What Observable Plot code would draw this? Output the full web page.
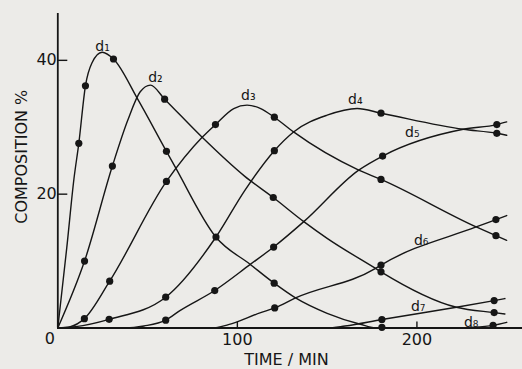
<!DOCTYPE html>
<html><head><meta charset="utf-8">
<script src="https://cdn.jsdelivr.net/npm/d3@7"></script>
<script src="https://cdn.jsdelivr.net/npm/@observablehq/plot@0.6"></script>
<style>html,body{margin:0;padding:0;background:#ecebe8;} svg{display:block;}</style>
</head><body><div id="chart"></div>
<script>
// Series names (products d1..d8)
const seriesNames = ["d₁","d₂","d₃","d₄","d₅","d₆","d₇","d₈"];

// Curves: [time (min), composition %]
const curveD1 = [[0,0],[5,12],[9,22.3],[11.7,27.6],[15.4,36.2],[19,39.6],[24.7,41.2],[31,40.2],[44.5,34.2],[60.5,26.4],[65.5,24.0],[88,13.6],[107.2,9.5],[120.5,6.7],[132.4,4.5],[150,2.2],[168,0.6],[178,0],[185,0]];
const curveD2 = [[0,0],[14.9,10.0],[30.4,24.2],[38.9,31.0],[45.9,35.3],[51.6,36.3],[59.5,34.2],[80.4,28.5],[104,22.7],[120,19.5],[137,15.9],[150,13.4],[177,8.9],[180,8.4],[222,3.1],[243,2.3],[249,2.1]];
const curveD3 = [[0,0],[7,0.2],[14.8,1.4],[28.9,7.0],[60.5,21.9],[80.4,28.5],[87.8,30.4],[98,32.8],[105.4,33.3],[113,32.8],[120.6,31.5],[131.3,29.3],[167.6,23.6],[180,22.2],[233,15.1],[244,13.8],[250,13.1]];
const curveD4 = [[0,0],[10,0.2],[28.6,1.3],[60.1,4.6],[88.1,13.6],[104,20.5],[120.6,26.5],[131.3,29.3],[150,31.8],[166.7,32.8],[180,32.1],[225.8,29.7],[244.5,29.1],[250,28.8]];
const curveD5 = [[0,0],[38,0],[48,0.3],[60.1,1.17],[68,2.6],[87.4,5.6],[107.2,9.5],[120.2,12.1],[137,15.9],[167.6,23.6],[180.9,25.7],[225.8,29.7],[244.5,30.4],[250,30.8]];
const curveD6 = [[0,0],[86,0],[95,0.5],[113,2.3],[120.8,3.0],[132.4,4.5],[177,8.9],[180,9.4],[233,15.1],[244,16.2],[250,16.8]];
const curveD7 = [[0,0],[150,0],[160,0.3],[180.5,1.27],[222,3.1],[243,4.1],[249,4.4]];
const curveD8 = [[0,0],[218,0],[230,0.1],[242.4,0.4],[250,0.85]];
const curves = [curveD1,curveD2,curveD3,curveD4,curveD5,curveD6,curveD7,curveD8];

// Measured points (filled dots)
const pointsD1 = [[11.7,27.6],[15.4,36.2],[31,40.2],[60.5,26.4],[120.5,6.7],[180.5,0.1]];
const pointsD2 = [[14.9,10.0],[30.4,24.2],[59.5,34.2],[120,19.5],[180,8.4],[243,2.3]];
const pointsD3 = [[14.8,1.4],[28.9,7.0],[60.5,21.9],[87.8,30.4],[120.6,31.5],[180,22.2],[244,13.8]];
const pointsD4 = [[28.6,1.3],[60.1,4.6],[88.1,13.6],[120.6,26.5],[180,32.1],[244.5,29.1]];
const pointsD5 = [[60.1,1.17],[87.4,5.6],[120.2,12.1],[180.9,25.7],[244.5,30.4]];
const pointsD6 = [[120.8,3.0],[180,9.4],[244,16.2]];
const pointsD7 = [[180.5,1.27],[243,4.1]];
const pointsD8 = [[242.4,0.4]];
const points = [pointsD1,pointsD2,pointsD3,pointsD4,pointsD5,pointsD6,pointsD7,pointsD8];

// Where each series name is written (data coordinates)
const labelTimes  = [24.9, 54.4, 106.1, 165.7, 197.4, 202.4, 200.7, 230.2];
const labelValues = [42.1, 37.5, 34.7, 34.1, 29.2, 13.1, 3.2, 0.8];

const xTicks = [100, 200];
const yTicks = [20, 40];
const originTick = [0];
const xLabel = "TIME / MIN";
const yLabel = "COMPOSITION %";
const xDomain = [0, 258.8];
const yDomain = [0, 47];

const lineRows = curves.flatMap((c, i) => c.map(([t, v]) => ({series: seriesNames[i], t, v})));
const dotRows = points.flatMap((c, i) => c.map(([t, v]) => ({series: seriesNames[i], t, v})));
const labelRows = seriesNames.map((name, i) => ({name, t: labelTimes[i], v: labelValues[i]}));

const ink = "#161616";
const chart = Plot.plot({
  width: 522,
  height: 369,
  marginLeft: 57.3,
  marginRight: 0,
  marginTop: 13,
  marginBottom: 41.5,
  style: {background: "#ecebe8", fontFamily: "'DejaVu Sans', sans-serif", color: ink},
  x: {domain: xDomain, axis: null},
  y: {domain: yDomain, axis: null},
  marks: [
    Plot.ruleY([0], {stroke: ink, strokeWidth: 1.8}),
    Plot.ruleX([0], {stroke: ink, strokeWidth: 1.8}),
    Plot.axisX({ticks: xTicks, label: null, tickSize: 6, dy: -6, tickPadding: 6, fontSize: 16, stroke: ink, strokeWidth: 1.4, fill: ink}),
    Plot.axisY({ticks: yTicks, label: null, tickSize: 10, dx: 10, tickPadding: 1, fontSize: 16, stroke: ink, strokeWidth: 1.4, fill: ink}),
    Plot.text(originTick, {x: d => d, y: d => d, text: d => String(d), dx: -8, dy: 11, fontSize: 16, fill: ink}),
    Plot.line(lineRows, {x: "t", y: "v", z: "series", curve: "monotone-x", stroke: ink, strokeWidth: 1.4}),
    Plot.dot(dotRows, {x: "t", y: "v", r: 3.6, fill: ink, stroke: "none"}),
    Plot.text(labelRows, {x: "t", y: "v", text: "name", fontSize: 14, fill: ink}),
    Plot.text([xLabel], {frameAnchor: "bottom", textAnchor: "middle", lineAnchor: "middle", dx: -3.6, dy: 31.5, fontSize: 16, fill: ink}),
    Plot.text([yLabel], {frameAnchor: "left", textAnchor: "middle", lineAnchor: "middle", rotate: -90, dx: -36.3, dy: -14, fontSize: 16, fill: ink})
  ]
});
document.getElementById("chart").appendChild(chart);
</script>
</body></html>
